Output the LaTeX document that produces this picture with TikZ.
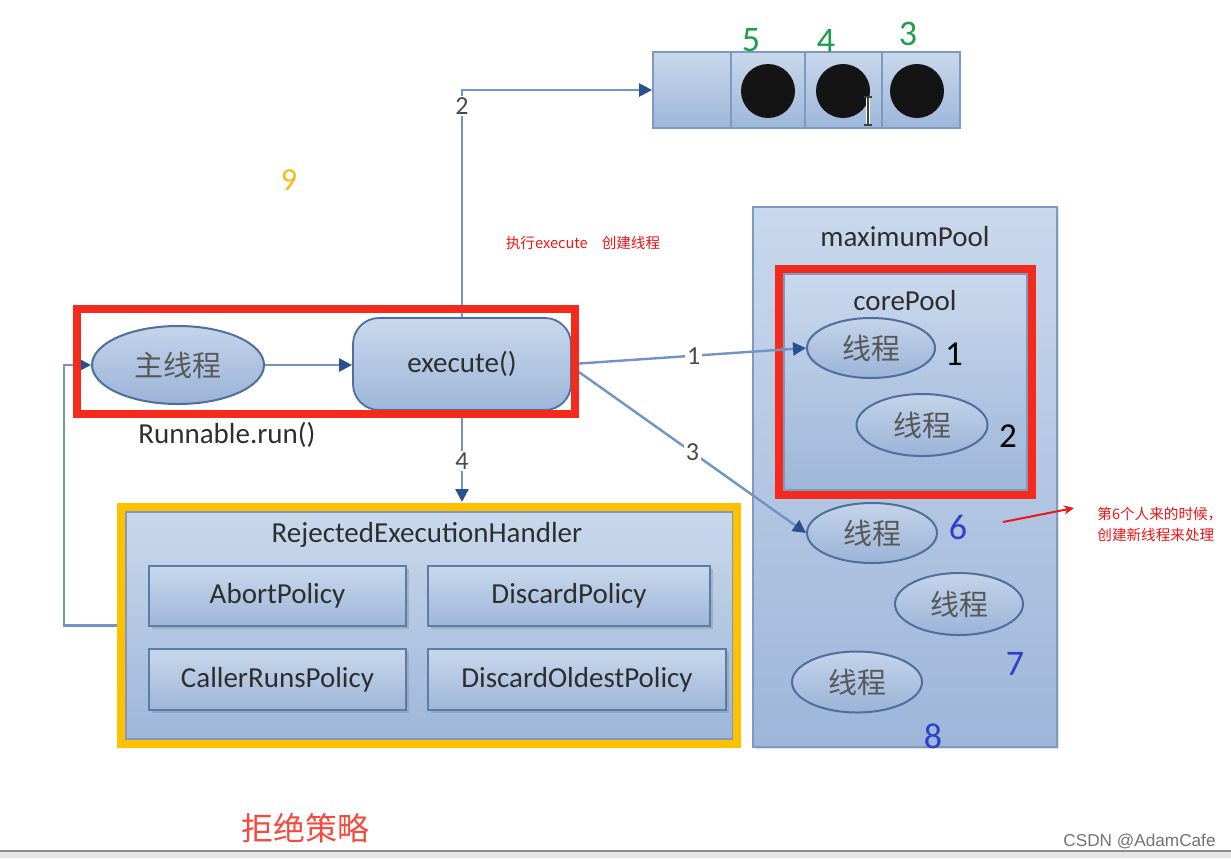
\documentclass[tikz,border=0pt]{standalone}
\usepackage{fontspec}
\setmainfont{Carlito}
\newfontfamily\cjk{Noto Sans CJK SC}
\newfontfamily\lsans{Liberation Sans}
\usetikzlibrary{shapes.geometric,arrows.meta,shadows}
\definecolor{boxtop}{HTML}{C9D8EC}
\definecolor{boxbot}{HTML}{9DB6D9}
\definecolor{boxline}{HTML}{7D9AC3}
\definecolor{polline}{HTML}{5B7BA8}
\definecolor{elltop}{HTML}{C4D4EA}
\definecolor{ellbot}{HTML}{9AB3D7}
\definecolor{ellline}{HTML}{4E6E9E}
\definecolor{connc}{HTML}{7394C0}
\definecolor{tipc}{HTML}{2B5090}
\definecolor{txt}{HTML}{2E2E2E}
\definecolor{labc}{HTML}{4A4A4A}
\definecolor{redc}{HTML}{F42A1C}
\definecolor{yelc}{HTML}{FFC000}
\definecolor{greenc}{HTML}{1E9E4A}
\definecolor{bluec}{HTML}{2E3FC8}
\definecolor{nine}{HTML}{F7BB10}
\definecolor{notec}{HTML}{F01414}
\tikzset{
  bluebox/.style={draw=boxline, line width=0.9pt, top color=boxtop, bottom color=boxbot, inner sep=0pt},
  policy/.style={bluebox, draw=polline, font=\fontsize{14.5}{16}\selectfont, text=txt,
    drop shadow={shadow xshift=1.4pt, shadow yshift=-1.4pt, opacity=0.35}},
  thread/.style={ellipse, draw=ellline, line width=1pt, top color=elltop, bottom color=ellbot,
    inner sep=0pt, font=\cjk\fontsize{14.5}{16}\selectfont, text=txt!80},
  title/.style={font=\fontsize{14.5}{16}\selectfont, text=txt},
  conn/.style={draw=connc, line width=1.2pt},
  arr/.style={conn, -{Triangle[length=6.5pt,width=6.5pt,color=tipc]}},
  lab/.style={fill=white, inner sep=1pt, font=\fontsize{13}{14}\selectfont, text=labc},
  frame/.style={line width=4pt},
  bignum/.style={font=\fontsize{18}{20}\selectfont},
}
\begin{document}
\begin{tikzpicture}[x=0.5pt,y=-0.5pt]
\useasboundingbox (0,0) rectangle (1231,858);
\fill[white] (0,0) rectangle (1231,858);

% queue
\node[bluebox, minimum width=39pt, minimum height=38pt] (q1) at (692,90) {};
\node[bluebox, minimum width=37pt, minimum height=38pt] (q2) at (768,90) {};
\node[bluebox, minimum width=38.5pt, minimum height=38pt] (q3) at (843.5,90) {};
\node[bluebox, minimum width=39pt, minimum height=38pt] (q4) at (921,90) {};
\node[circle, fill=black!92, minimum size=27pt, inner sep=0pt] (c1) at (768,91) {};
\node[circle, fill=black!92, minimum size=27pt, inner sep=0pt] (c2) at (843,91) {};
\node[circle, fill=black!92, minimum size=27pt, inner sep=0pt] (c3) at (917,91) {};
\node[bignum, text=greenc] (n5) at (751,40) {5};
\node[bignum, text=greenc] (n4) at (826,41) {4};
\node[bignum, text=greenc] (n3) at (908,34) {3};
% cursor
\draw[white, line width=2pt] (868,97) -- (868,125);
\draw[black!75, line width=0.7pt] (868,97) -- (868,125) (864,97) -- (872,97) (864,125) -- (872,125);

\node[font=\fontsize{16}{18}\selectfont, text=nine] (n9) at (289,180) {9};
\node[font=\cjk\fontsize{7.3}{9}\selectfont, text=notec] (exnote) at (583,243) {执行execute\hspace{7pt}创建线程};

% maximum pool
\node[bluebox, minimum width=152pt, minimum height=270pt,
  drop shadow={shadow xshift=1.2pt, shadow yshift=-1.2pt, opacity=0.25}] (maxp) at (905,477) {};
\node[title] (maxt) at (905,237) {maximumPool};
\node[bluebox, minimum width=121.5pt, minimum height=108pt] (corep) at (905.5,382) {};
\draw[redc, frame] (779,269) rectangle (1032,495);
\node[title] (coret) at (905,301) {corePool};
\node[thread, minimum width=64pt, minimum height=30pt] (t1) at (871,348) {线程};
\node[thread, minimum width=65.5pt, minimum height=31pt] (t2) at (922,425) {线程};
\node[thread, minimum width=65pt, minimum height=30pt] (t6) at (872,533) {线程};
\node[thread, minimum width=64pt, minimum height=31pt] (t7) at (959,604) {线程};
\node[thread, minimum width=65pt, minimum height=30.5pt] (t8) at (857,682) {线程};
\node[font=\fontsize{17.5}{19}\selectfont] (d1) at (954,354) {1};
\node[font=\fontsize{17.5}{19}\selectfont] (d2) at (1008,436) {2};
\node[bignum, text=bluec] (d6) at (958,527) {6};
\node[bignum, text=bluec] (d7) at (1015,664) {7};
\node[bignum, text=bluec] (d8) at (933,736) {8};

% rejected handler
\node[bluebox, minimum width=303.5pt, minimum height=113.5pt] (handler) at (429.5,625.5) {};
\node[title] (htitle) at (427,535) {RejectedExecutionHandler};
\node[policy, minimum width=128.5pt, minimum height=30pt] (abort) at (277.5,596) {AbortPolicy};
\node[policy, minimum width=141pt, minimum height=30pt] (discard) at (569,596) {DiscardPolicy};
\node[policy, minimum width=128.5pt, minimum height=30.5pt] (caller) at (277.5,679.5) {CallerRunsPolicy};
\node[policy, minimum width=149pt, minimum height=30.5pt] (oldest) at (577,679.5) {DiscardOldestPolicy};

% main thread and execute
\node[thread, minimum width=86pt, minimum height=39pt] (main) at (178,365) {主线程};
\node[bluebox, draw=ellline, rounded corners=13pt, minimum width=109pt, minimum height=46pt,
  font=\fontsize{14.5}{16}\selectfont, text=txt] (exec) at (462,364) {execute()};
\node[title] (runl) at (227,435) {Runnable.run()};

% connectors
\draw[arr] (main.east) -- (main.east -| exec.west);
\draw[arr] (exec.north) |- (q1.west);
\node[lab] (l2) at (462,106) {2};
\draw[arr] (exec.east) -- node[lab, pos=0.52] (l1) {1} (t1.west);
\draw[arr] ([yshift=-1.5pt]exec.east) -- node[lab, pos=0.515] (l3) {3} (t6.west);
\coordinate (htop) at (462,502);
\draw[arr] (exec.south) -- (htop);
\node[lab] (l4) at (462,461) {4};
\draw[arr] (handler.west) -- ++(-61,0) |- (main.west);

% frames
\draw[yelc, frame] (121,507) rectangle (737,744);
\draw[redc, frame] (77,309) rectangle (575,414);

% annotation
\coordinate (an1) at (1003,522);
\coordinate (an2) at (1074,508);
\draw[notec, line width=1pt, -{Stealth[length=5pt,width=4.5pt]}] (an1) -- (an2);
\node[font=\cjk\fontsize{7.3}{10.5}\selectfont, text=notec, align=left, anchor=west, inner sep=0pt] (note) at (1097,524) {第6个人来的时候，\\创建新线程来处理};

\node[font=\cjk\fontsize{16}{18}\selectfont, text=redc!85] (reject) at (305,828) {拒绝策略};
\node[font=\lsans\fontsize{8.6}{10}\selectfont, text=black!55, anchor=east, inner sep=0pt] (csdn) at (1216,841) {CSDN @AdamCafe};

% bottom bar
\fill[black!10] (0,851) rectangle (1231,858);
\draw[black!45, line width=1pt] (0,851) -- (1231,851);
\end{tikzpicture}
\end{document}
